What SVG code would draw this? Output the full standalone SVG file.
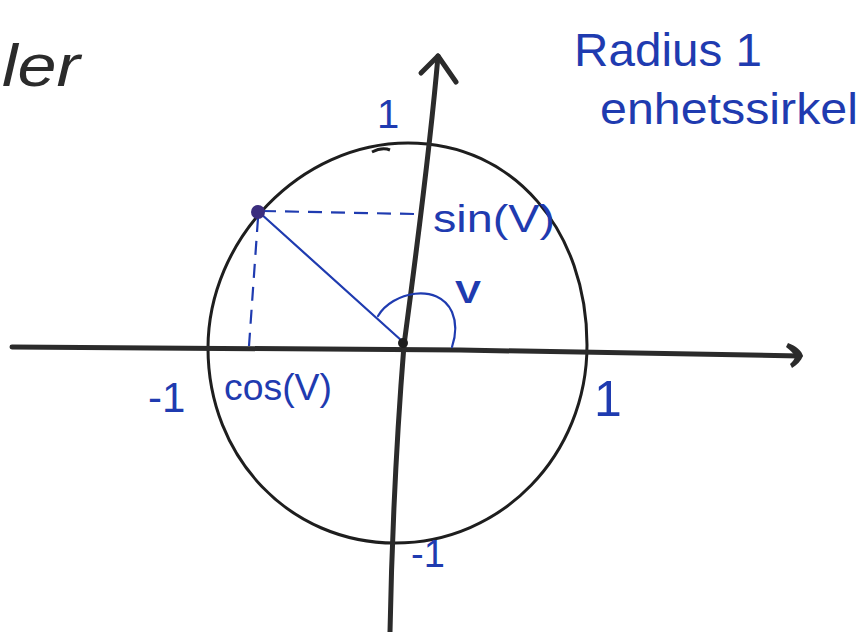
<svg xmlns="http://www.w3.org/2000/svg" width="862" height="632" viewBox="0 0 862 632">
<style>
.ax{fill:none;stroke:#2b2b2b;stroke-width:5;stroke-linecap:round;stroke-linejoin:round}
.circ{fill:none;stroke:#1e1e1e;stroke-width:3}
.bl{fill:none;stroke:#1f3bb0;stroke-width:2.2;stroke-linecap:round}
.dash{fill:none;stroke:#1f3bb0;stroke-width:2.2;stroke-dasharray:14 9}
.lbl{font-family:"Liberation Sans",Arial,sans-serif;fill:#1f3bb0}
</style>
<rect width="862" height="632" fill="#ffffff"/>
<g id="handwriting-top-left">
<text x="2" y="86" font-size="60" font-family="Liberation Sans, Arial, sans-serif" font-style="italic" fill="#2b2b2b" textLength="78" lengthAdjust="spacingAndGlyphs">ler</text>
</g>
<g id="unit-circle">
<path class="circ" d="M 408 143 C 515 143 587 232 587 345 C 587 455 502 543 395 543 C 290 543 208 458 208 348 C 208 240 300 143 408 143 Z"/>
<path class="circ" d="M 372 152 C 378 149 385 148 390 150" />
</g>
<g id="axes">
<path class="ax" d="M 12 347 L 460 350 L 800 356"/>
<path d="M 788 343 C 796 346 802 351 803 356 C 801 361 797 365 792 368 L 790 364 C 793 361 795 359 795 356 C 793 353 790 350 786 347 Z" fill="#2b2b2b"/>
<path class="ax" d="M 438 56 C 430 150 410 300 404 345 C 398 420 392 530 390 632"/>
<path class="ax" d="M 421 73 L 438 56 L 456 82"/>
</g>
<g id="connectors">
<path class="bl" d="M 260 213 L 402 341"/>
<path class="dash" d="M 262 211 L 415 214"/>
<path class="dash" d="M 258 218 L 249 346"/>
<path class="bl" stroke-width="2.6" d="M 378 316 C 392 292 438 282 452 312 C 458 326 455 338 452 347"/>
</g>
<g id="point">
<circle cx="258" cy="212" r="7" fill="#3b2d7e"/>
</g>
<g id="origin">
<circle cx="403" cy="343" r="5" fill="#1e1e1e"/>
</g>
<g id="labels">
<text class="lbl" x="377" y="128" font-size="40">1</text>
<text class="lbl" x="433" y="232" font-size="38" textLength="122" lengthAdjust="spacingAndGlyphs">sin(V)</text>
<text class="lbl" x="455" y="303" font-size="32" font-weight="bold" textLength="26" lengthAdjust="spacingAndGlyphs">V</text>
<text class="lbl" x="148" y="412" font-size="42">-1</text>
<text class="lbl" x="224" y="400" font-size="36" textLength="108" lengthAdjust="spacingAndGlyphs">cos(V)</text>
<text class="lbl" x="594" y="416" font-size="50">1</text>
<text class="lbl" x="411" y="567" font-size="38">-1</text>
<text class="lbl" x="574" y="66" font-size="46" textLength="188" lengthAdjust="spacingAndGlyphs">Radius 1</text>
<text class="lbl" x="600" y="124" font-size="44" textLength="258" lengthAdjust="spacingAndGlyphs">enhetssirkel</text>
</g>
</svg>
